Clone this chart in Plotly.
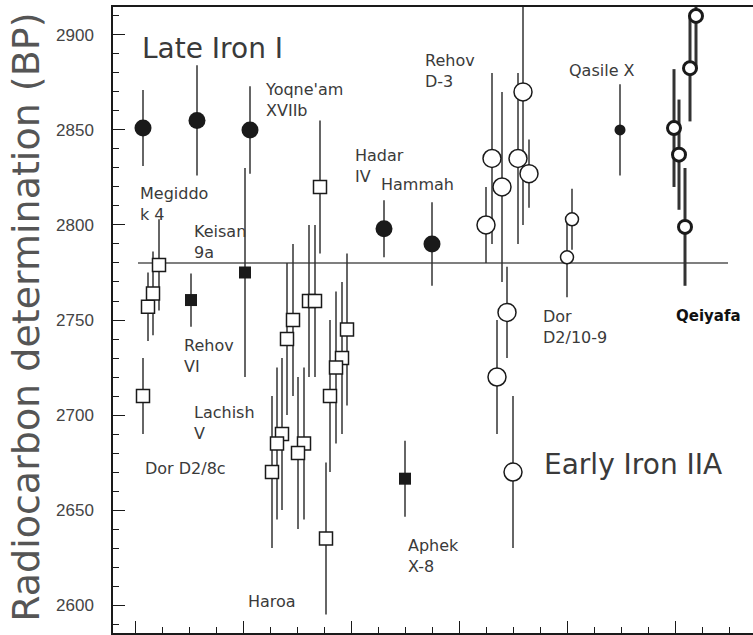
import plotly.graph_objects as go

# ---------------- data (x = horizontal position on the unlabeled axis, y = BP) -------------
ref_bp = 2780
ref_x = [138, 728]

late_x = [143, 197, 250, 384, 432]
late_y = [2851, 2855, 2850, 2798, 2790]
late_e = [20, 29, 23, 15, 22]

qasile_x = [620]
qasile_y = [2850]
qasile_e = [24]

fsq_x = [191, 245, 405]
fsq_y = [2760.5, 2775, 2666.5]
fsq_e = [14, 55, 20]

osq_x = [148, 153, 159, 143, 320, 309, 315, 293, 287, 347, 342, 336, 330, 282, 277, 272, 304, 298, 326]
osq_y = [2757, 2764, 2779, 2710, 2820, 2760, 2760, 2750, 2740, 2745, 2730, 2725, 2710, 2690, 2685, 2670, 2685, 2680, 2635]
osq_e = [18, 22, 24, 20, 35, 40, 40, 40, 40, 40, 40, 40, 40, 40, 40, 40, 40, 40, 40]

oc_x = [486, 492, 502, 518, 523, 529, 507, 497, 513]
oc_y = [2800, 2835, 2820, 2835, 2870, 2827, 2754, 2720, 2670]
oc_e = [20, 45, 50, 45, 70, 18, 24, 30, 40]

dor_x = [567, 572]
dor_y = [2783, 2803]
dor_e = [21, 16]

qei_x = [696, 690, 674, 679, 685]
qei_y = [2910, 2882.5, 2851, 2837, 2799]
qei_e = [28, 28, 31, 29, 31]

labels = [
    ("Late Iron I", 140, 2893, 28),
    ("Yoqne'am<br>XVIIb", 263, 2866, 16),
    ("Megiddo<br>k 4", 138, 2811, 16),
    ("Keisan<br>9a", 192, 2791, 16),
    ("Hadar<br>IV", 353, 2831, 16),
    ("Hammah", 379, 2821.5, 16),
    ("Rehov<br>D-3", 423, 2881, 16),
    ("Qasile X", 567, 2881.5, 16),
    ("Dor<br>D2/10-9", 541, 2746.5, 16),
    ("Early Iron IIA", 542, 2674, 28),
    ("Rehov<br>VI", 182, 2731, 16),
    ("Lachish<br>V", 192, 2696, 16),
    ("Dor D2/8c", 143, 2672, 16),
    ("Aphek<br>X-8", 406, 2626, 16),
    ("Haroa", 246, 2602, 16),
]

y_ticks = [2600, 2650, 2700, 2750, 2800, 2850, 2900]

# ---------------- figure ----------------
INK = "#1a1a1a"
BAR = "#333333"
TXT = "#3a3a3a"

fig = go.Figure()

fig.add_trace(go.Scatter(x=ref_x, y=[ref_bp, ref_bp], mode="lines",
                         line=dict(color="#555555", width=1.5), hoverinfo="skip"))


def add(xs, ys, es, symbol, size, fill, lw, bw):
    fig.add_trace(go.Scatter(
        x=xs, y=ys, mode="markers",
        marker=dict(symbol=symbol, size=size, color=fill,
                    line=dict(color=INK, width=lw)),
        error_y=dict(type="data", array=es, symmetric=True, color=BAR,
                     thickness=bw, width=0),
    ))


add(osq_x, osq_y, osq_e, "square", 13, "white", 1.5, 1.5)
add(fsq_x, fsq_y, fsq_e, "square", 12, INK, 0, 1.5)
add(late_x, late_y, late_e, "circle", 17, INK, 0, 1.5)
add(qasile_x, qasile_y, qasile_e, "circle", 11, INK, 0, 1.5)
add(oc_x, oc_y, oc_e, "circle", 18, "white", 1.5, 1.5)
add(dor_x, dor_y, dor_e, "circle", 13, "white", 1.5, 1.5)
add(qei_x, qei_y, qei_e, "circle", 13, "white", 3, 3)

annotations = []
for text, x, y, size in labels:
    annotations.append(dict(x=x, y=y, xref="x", yref="y", text=text, showarrow=False,
                            xanchor="left", yanchor="middle", align="left",
                            font=dict(family="DejaVu Sans", size=size, color=TXT)))
annotations.append(dict(x=674, y=2752, xref="x", yref="y", text="<b>Qeiyafa</b>",
                        showarrow=False, xanchor="left", yanchor="middle",
                        font=dict(family="DejaVu Sans", size=15, color="#111111")))
annotations.append(dict(x=-0.136, y=0.505, xref="paper", yref="paper",
                        text="Radiocarbon determination (BP)", textangle=-90,
                        showarrow=False, xanchor="center", yanchor="middle",
                        font=dict(family="DejaVu Sans", size=38, color="#555555")))

fig.update_layout(
    width=753, height=635,
    margin=dict(l=113, r=0, t=7, b=2),
    paper_bgcolor="white", plot_bgcolor="white",
    showlegend=False,
    annotations=annotations,
    xaxis=dict(range=[113, 753], showgrid=False, zeroline=False,
               showline=True, linecolor=INK, linewidth=1.5, mirror=True,
               ticks="inside", ticklen=12, tickwidth=1.2, tickcolor=INK,
               tick0=135, dtick=108, showticklabels=False,
               minor=dict(ticks="inside", ticklen=6, tickwidth=1.2, tickcolor=INK,
                          tick0=135, dtick=27, showgrid=False)),
    yaxis=dict(range=[2585.3, 2914.7], showgrid=False, zeroline=False,
               showline=True, linecolor=INK, linewidth=1.5,
               ticks="inside", ticklen=12, tickwidth=1.2, tickcolor=INK,
               tickmode="array", tickvals=y_ticks, ticktext=[str(v) for v in y_ticks],
               ticklabelstandoff=14,
               tickfont=dict(family="Liberation Sans", size=17, color="#444444"),
               minor=dict(ticks="inside", ticklen=6, tickwidth=1.2, tickcolor=INK,
                          dtick=10, tick0=2600, showgrid=False)),
)

fig.write_html("out.html", config={"displayModeBar": False},
               post_script="document.body.style.margin='0';")
